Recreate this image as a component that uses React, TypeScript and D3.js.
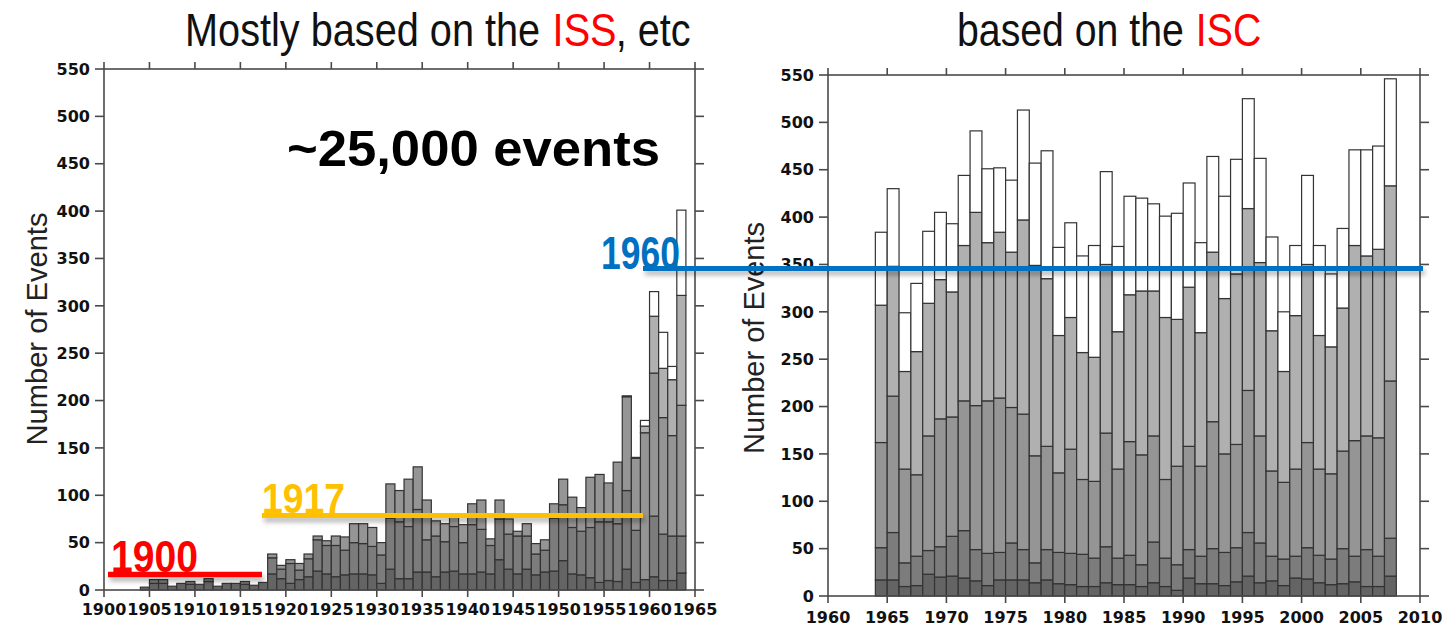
import React from 'react';
import * as d3 from 'd3';

// ISS era, one bar per year (1904 .. 1963), cumulative tops of each shade
const issYears = d3.range(1904, 1964);
const issDarkest = [3, 7, 7, 4, 7, 6, 6, 9, 4, 7, 7, 6, 5, 8,
  17, 12, 7, 11, 14, 20, 17, 14, 16, 17, 17, 16, 7,
  22, 12, 12, 19, 19, 14, 19, 20, 17, 17, 19, 17, 32, 22, 17, 22, 16, 19, 20, 31, 17, 16, 13, 8, 10, 9, 22, 8, 11,
  14, 10, 10, 18];
const issDark = [3, 11, 11, 4, 7, 9, 6, 12, 4, 7, 7, 9, 5, 8,
  34, 22, 28, 21, 33, 53, 47, 47, 42, 50, 49, 46, 37,
  76, 72, 67, 85, 53, 57, 51, 67, 50, 69, 64, 47, 75, 59, 57, 57, 38, 42, 76, 90, 66, 62, 66, 72, 72, 70, 105, 63, 11,
  78, 59, 57, 57];
const issMedium = [3, 11, 11, 4, 7, 9, 6, 12, 4, 7, 7, 9, 5, 8,
  38, 26, 32, 28, 38, 57, 52, 57, 56, 70, 70, 66, 50,
  112, 105, 117, 130, 95, 73, 70, 80, 69, 91, 95, 54, 95, 75, 62, 70, 49, 53, 91, 117, 98, 87, 119, 122, 113, 135, 204, 139, 166,
  229, 182, 163, 195];
const issLight = [3, 11, 11, 4, 7, 9, 6, 12, 4, 7, 7, 9, 5, 8,
  38, 26, 32, 28, 38, 57, 52, 57, 56, 70, 70, 66, 50,
  112, 105, 117, 130, 95, 73, 70, 80, 69, 91, 95, 54, 95, 75, 62, 70, 49, 53, 91, 117, 98, 87, 119, 122, 113, 135, 204, 139, 173,
  289, 234, 222, 311];
const issTotal = [3, 11, 11, 4, 7, 9, 6, 12, 4, 7, 7, 9, 5, 8,
  38, 26, 32, 28, 38, 57, 52, 57, 56, 70, 70, 66, 50,
  112, 105, 117, 130, 95, 73, 70, 80, 69, 91, 95, 54, 95, 75, 62, 70, 49, 53, 91, 117, 98, 87, 119, 122, 113, 135, 205, 140, 179,
  315, 272, 236, 401];

// ISC era (1964 .. 2007)
const iscYears = d3.range(1964, 2008);
const iscDarkest = [17, 17, 10, 11, 23, 20, 21, 19, 16, 11, 17, 17, 17, 14, 17, 13, 12, 10, 10, 14, 12, 12,
  10, 14, 10, 6, 19, 13, 13, 11, 15, 21, 14, 16, 11, 19, 18, 14, 12, 13, 15, 10, 10, 21];
const iscDark = [51, 67, 35, 42, 48, 52, 63, 69, 49, 45, 46, 56, 49, 35, 49, 46, 45, 44, 40, 52, 40, 43,
  33, 57, 40, 33, 49, 42, 50, 46, 51, 67, 56, 42, 39, 42, 51, 43, 39, 50, 42, 49, 42, 61];
const iscMedium = [162, 211, 134, 128, 169, 187, 189, 206, 201, 206, 209, 199, 192, 148, 158, 130, 155, 123, 121, 172, 134, 163,
  149, 169, 123, 137, 158, 137, 184, 150, 160, 217, 169, 132, 120, 134, 162, 134, 129, 153, 164, 169, 167, 227];
const iscLight = [307, 348, 237, 258, 309, 334, 321, 370, 405, 373, 384, 363, 397, 349, 335, 275, 294, 257, 252, 350, 279, 318,
  322, 322, 294, 292, 326, 278, 363, 314, 340, 409, 352, 280, 237, 296, 350, 275, 263, 304, 370, 359, 366, 433];
const iscTotal = [384, 430, 299, 330, 385, 405, 393, 444, 491, 451, 452, 439, 513, 457, 470, 368, 394, 359, 370, 448, 369, 422,
  420, 414, 401, 404, 436, 373, 464, 422, 461, 525, 462, 379, 300, 370, 444, 370, 340, 388, 471, 471, 475, 546];

const yTicks = [0, 50, 100, 150, 200, 250, 300, 350, 400, 450, 500, 550];
const issXTicks = [1900, 1905, 1910, 1915, 1920, 1925, 1930, 1935, 1940, 1945, 1950, 1955, 1960, 1965];
const iscXTicks = [1960, 1965, 1970, 1975, 1980, 1985, 1990, 1995, 2000, 2005, 2010];

const shades = ['#646464', '#7c7c7c', '#959595', '#b0b0b0', '#ffffff'];
const axisColor = '#4a4a4a';
const tickFont = 'DejaVu Sans, Verdana, sans-serif';
const sans = '"Liberation Sans", Arial, sans-serif';
const narrow = '"Liberation Sans Narrow", "Arial Narrow", "Liberation Sans", Arial, sans-serif';

function Panel({ years, layers, xDomain, xRange, yRange, xTicks, labelY }) {
  const x = d3.scaleLinear().domain(xDomain).range(xRange);
  const y = d3.scaleLinear().domain([0, 550]).range(yRange);
  const [x0, x1] = xRange;
  const [yb, yt] = yRange;
  const tl = 7;

  const rects = [];
  years.forEach((yr, i) => {
    let prev = 0;
    layers.forEach((arr, k) => {
      const top = arr[i];
      if (top > prev) {
        rects.push(
          <rect key={`${yr}-${k}`} x={x(yr)} y={y(top)} width={x(yr + 1) - x(yr)} height={y(prev) - y(top)}
            fill={shades[k]} stroke="#333" strokeWidth={1.2} />
        );
      }
      prev = Math.max(prev, top);
    });
  });

  return (
    <g>
      {rects}
      <rect x={x0} y={yt} width={x1 - x0} height={yb - yt} fill="none" stroke={axisColor} strokeWidth={1.6} />
      {xTicks.map((t) => (
        <g key={`xt${t}`}>
          <line x1={x(t)} x2={x(t)} y1={yb} y2={yb + tl} stroke={axisColor} strokeWidth={1.6} />
          <line x1={x(t)} x2={x(t)} y1={yt} y2={yt - tl} stroke={axisColor} strokeWidth={1.6} />
          <text x={x(t)} y={labelY} textAnchor="middle" fontFamily={tickFont} fontWeight="bold" fontSize={16} fill="#111">{t}</text>
        </g>
      ))}
      {yTicks.map((t) => (
        <g key={`yt${t}`}>
          <line x1={x0 - tl - 2} x2={x0} y1={y(t)} y2={y(t)} stroke={axisColor} strokeWidth={1.6} />
          <line x1={x1} x2={x1 + tl + 2} y1={y(t)} y2={y(t)} stroke={axisColor} strokeWidth={1.6} />
          <text x={x0 - 14} y={y(t)} dy="0.36em" textAnchor="end" fontFamily={tickFont} fontWeight="bold" fontSize={16} fill="#111">{t}</text>
        </g>
      ))}
    </g>
  );
}

function Marker({ x1, x2, y, h, color }) {
  return <rect x={x1} y={y - h / 2} width={x2 - x1} height={h} fill={color} filter="url(#shadow)" />;
}

export default function App() {
  return (
    <svg width={1442} height={626} style={{ position: 'absolute', left: 0, top: 0, background: '#fff' }}>
      <defs>
        <filter id="shadow" filterUnits="userSpaceOnUse" x={0} y={0} width={1442} height={626}>
          <feDropShadow dx="2" dy="4" stdDeviation="2.5" floodColor="#000" floodOpacity="0.3" />
        </filter>
      </defs>

      {/* titles: Arial metrics squeezed horizontally */}
      <g transform="translate(185,46) scale(0.863,1)" fontFamily={sans} fontSize={46}>
        <text x={0} fill="#111">Mostly based on the</text>
        <text x={426} fill="#ff0000">ISS</text>
        <text x={499} fill="#111">, etc</text>
      </g>
      <g transform="translate(957,46) scale(0.853,1)" fontFamily={sans} fontSize={46}>
        <text x={0} fill="#111">based on the</text>
        <text x={280} fill="#ff0000">ISC</text>
      </g>

      <Panel years={issYears} layers={[issDarkest, issDark, issMedium, issLight, issTotal]}
        xDomain={[1900, 1965]} xRange={[104, 695]} yRange={[590, 69]} xTicks={issXTicks} labelY={615} />
      <Panel years={iscYears} layers={[iscDarkest, iscDark, iscMedium, iscLight, iscTotal]}
        xDomain={[1960, 2010]} xRange={[828, 1420]} yRange={[596, 75]} xTicks={iscXTicks} labelY={623} />

      <text transform="translate(47,329) rotate(-90)" textAnchor="middle" fontFamily={narrow} fontSize={30}
        textLength={233} lengthAdjust="spacingAndGlyphs" fill="#222">Number of Events</text>
      <text transform="translate(764,338) rotate(-90)" textAnchor="middle" fontFamily={narrow} fontSize={30}
        textLength={232} lengthAdjust="spacingAndGlyphs" fill="#222">Number of Events</text>

      <text x={287} y={166} fontFamily={sans} fontWeight="bold" fontSize={50}
        textLength={373} lengthAdjust="spacingAndGlyphs" fill="#000">~25,000 events</text>

      <Marker x1={108} x2={262} y={574.5} h={5.5} color="#ff0000" />
      <text x={111} y={572} fontFamily={narrow} fontWeight="bold" fontSize={44} textLength={87}
        lengthAdjust="spacingAndGlyphs" fill="#ff0000">1900</text>

      <Marker x1={262} x2={643} y={515.5} h={5} color="#ffc000" />
      <text x={262} y={513} fontFamily={narrow} fontWeight="bold" fontSize={42} textLength={83}
        lengthAdjust="spacingAndGlyphs" fill="#ffc000">1917</text>

      <Marker x1={643} x2={1423} y={268.5} h={5} color="#0070c0" />
      <text x={601} y={269} fontFamily={narrow} fontWeight="bold" fontSize={46} textLength={79}
        lengthAdjust="spacingAndGlyphs" fill="#0070c0">1960</text>
    </svg>
  );
}
